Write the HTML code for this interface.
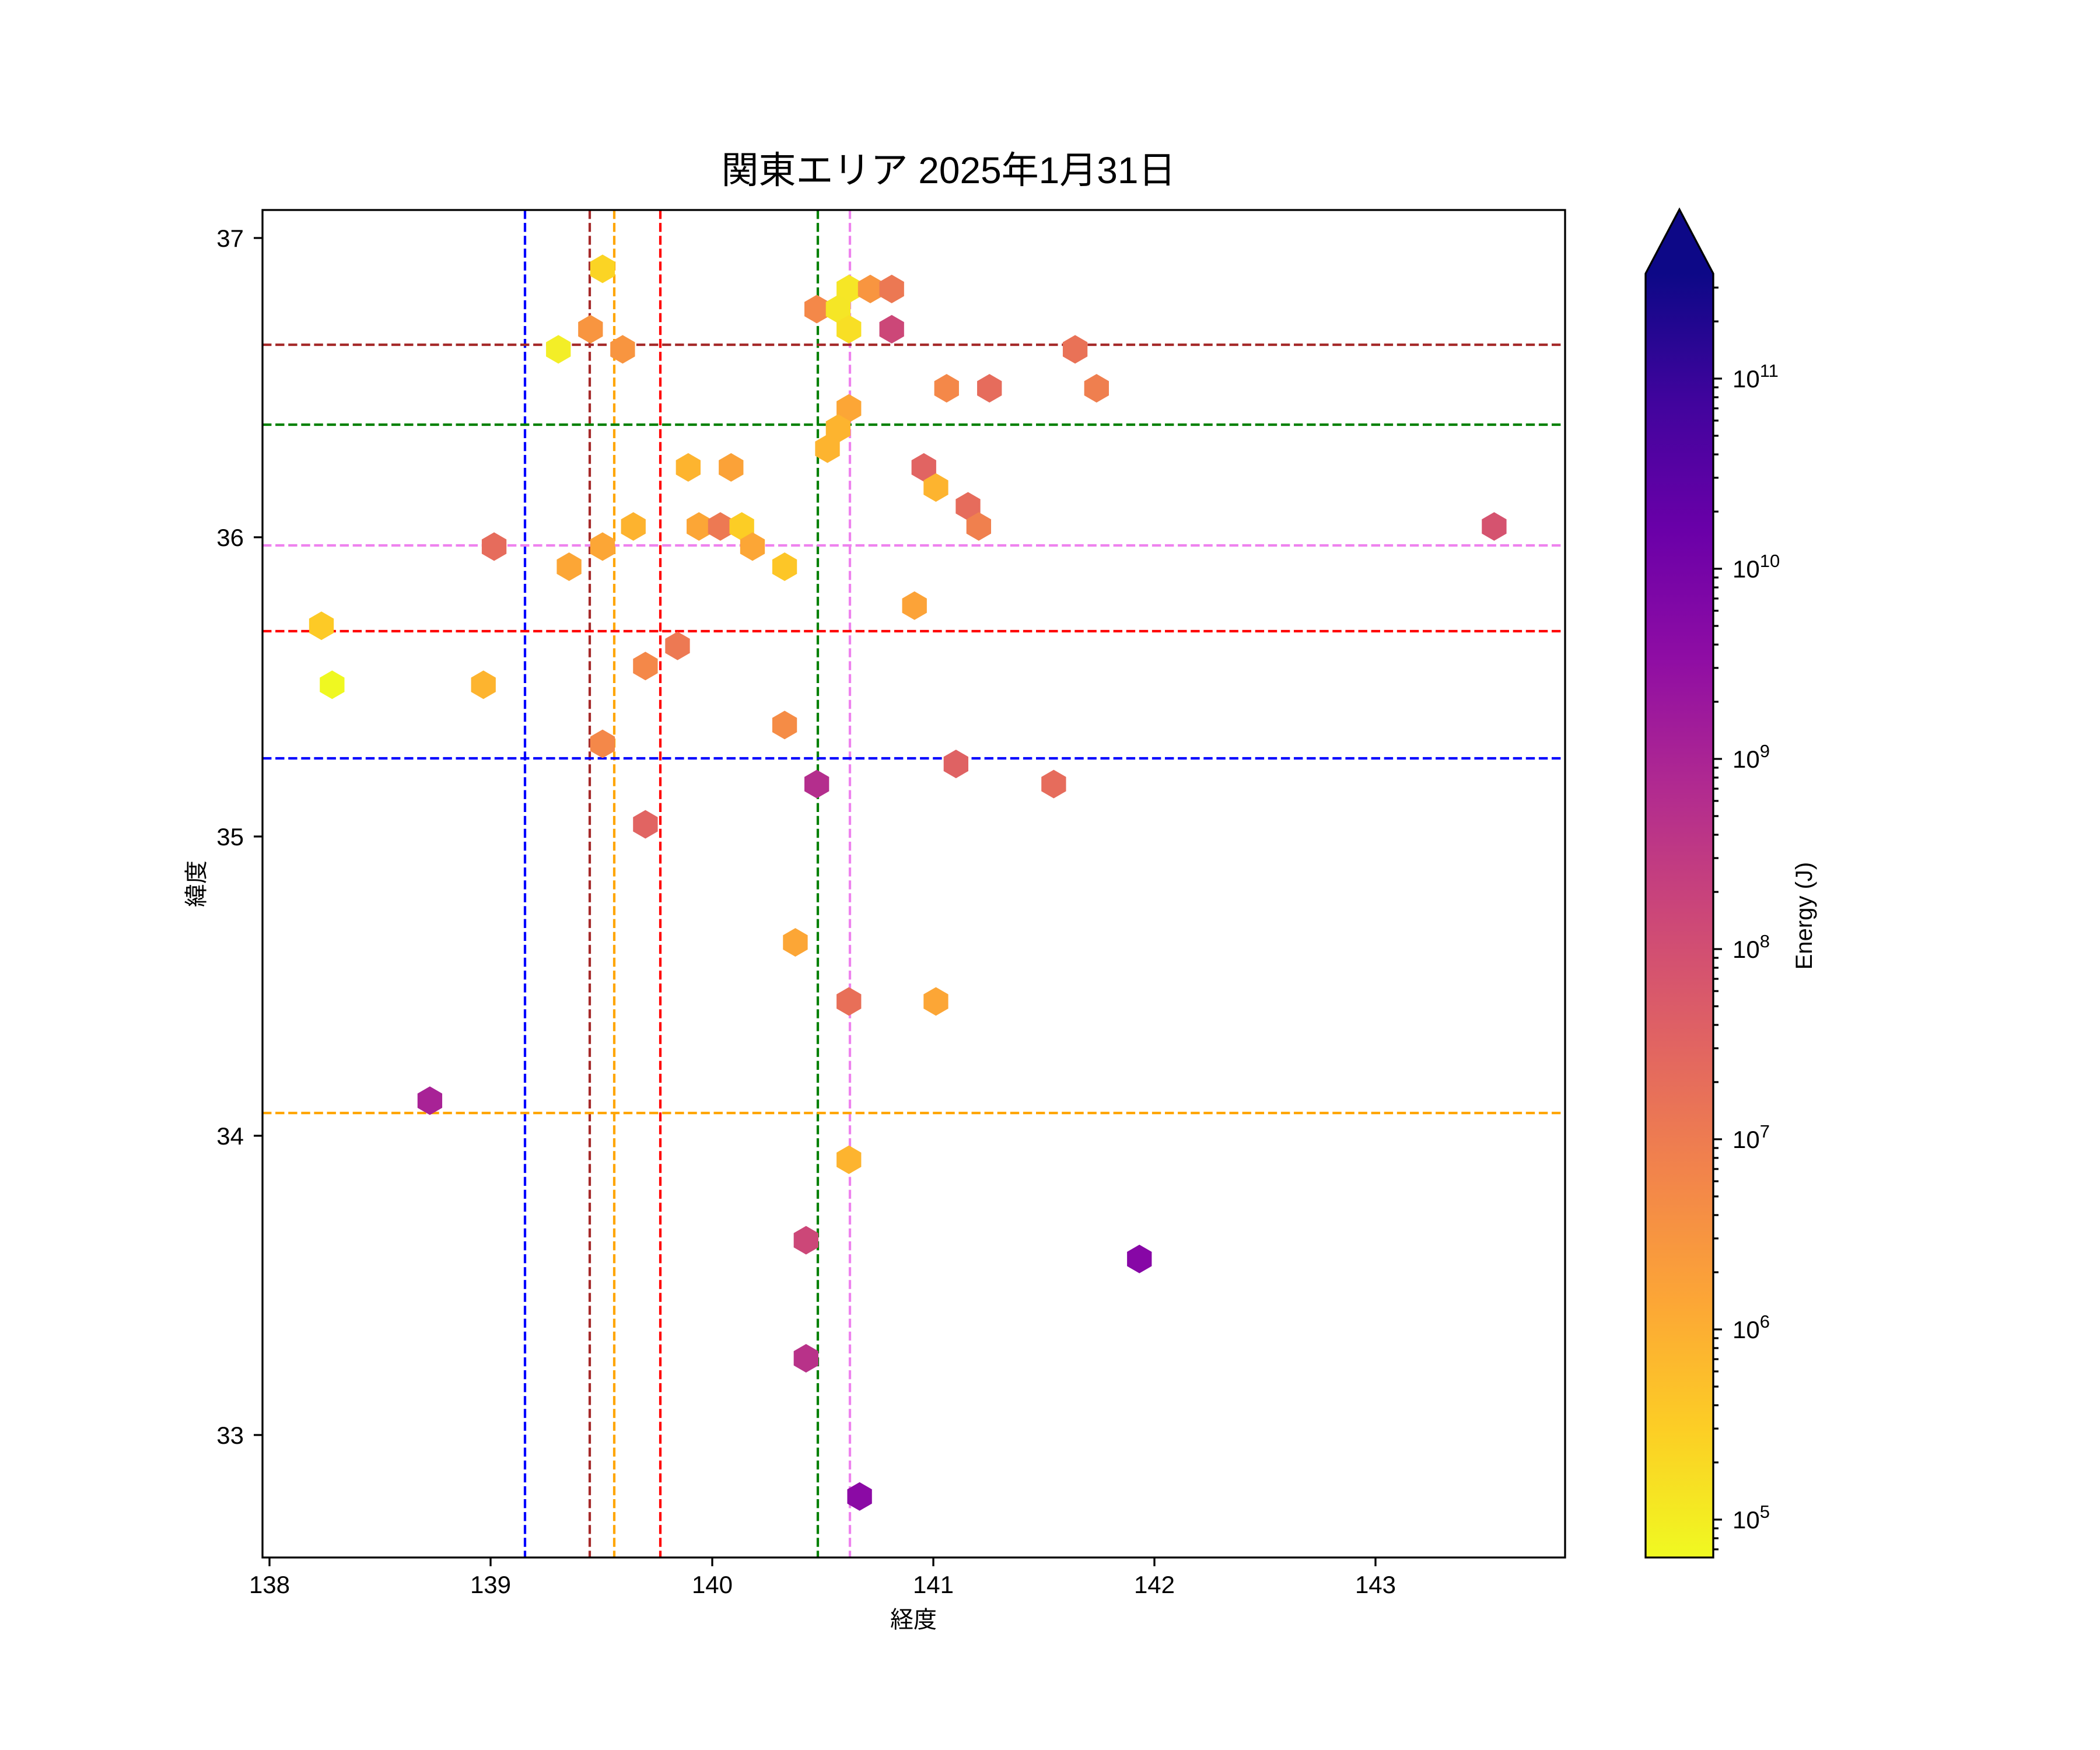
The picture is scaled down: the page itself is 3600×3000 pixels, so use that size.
<!DOCTYPE html>
<html><head><meta charset="utf-8"><style>
html,body{margin:0;padding:0;background:#fff;}
svg{display:block;}
text{font-family:"Liberation Sans","Noto Sans CJK JP",sans-serif;fill:#000;}
</style></head><body>
<svg width="3600" height="3000" viewBox="0 0 3600 3000" xmlns="http://www.w3.org/2000/svg">
<defs>
<polygon id="h" points="0,-10.65 9.22,-5.33 9.22,5.33 0,10.65 -9.22,5.33 -9.22,-5.33"/>
<linearGradient id="pl" x1="0" y1="0" x2="0" y2="1">
<stop offset="0" stop-color="#0d0887"/>
<stop offset="0.1" stop-color="#41049d"/>
<stop offset="0.2" stop-color="#6a00a8"/>
<stop offset="0.3" stop-color="#8f0da4"/>
<stop offset="0.4" stop-color="#b12a90"/>
<stop offset="0.5" stop-color="#cc4778"/>
<stop offset="0.6" stop-color="#e16462"/>
<stop offset="0.7" stop-color="#f2844b"/>
<stop offset="0.8" stop-color="#fca636"/>
<stop offset="0.9" stop-color="#fcce25"/>
<stop offset="1" stop-color="#f0f921"/>
</linearGradient>
</defs>
<rect width="3600" height="3000" fill="#fff"/>

<text x="1626" y="314" font-size="64" text-anchor="middle">関東エリア 2025年1月31日</text>

<g stroke-width="4.2" stroke-dasharray="15.4,6.7" fill="none">
<line x1="900" y1="360" x2="900" y2="2670" stroke="#0000ff"/>
<line x1="1011" y1="360" x2="1011" y2="2670" stroke="#a52a2a"/>
<line x1="1053" y1="360" x2="1053" y2="2670" stroke="#ffa500"/>
<line x1="1132" y1="360" x2="1132" y2="2670" stroke="#ff0000"/>
<line x1="1402" y1="360" x2="1402" y2="2670" stroke="#008000"/>
<line x1="1457" y1="360" x2="1457" y2="2670" stroke="#ee82ee"/>
<line x1="450" y1="591" x2="2683" y2="591" stroke="#a52a2a"/>
<line x1="450" y1="728" x2="2683" y2="728" stroke="#008000"/>
<line x1="450" y1="935" x2="2683" y2="935" stroke="#ee82ee"/>
<line x1="450" y1="1082" x2="2683" y2="1082" stroke="#ff0000"/>
<line x1="450" y1="1300" x2="2683" y2="1300" stroke="#0000ff"/>
<line x1="450" y1="1908" x2="2683" y2="1908" stroke="#ffa500"/>
</g>

<g transform="matrix(2.295,0,0,2.3,2.5,-3.7)">
<use href="#h" x="449" y="202" fill="#fbd424"/>
<use href="#h" x="440" y="247" fill="#f89540"/>
<use href="#h" x="416" y="262" fill="#f3ee27"/>
<use href="#h" x="464" y="262" fill="#f89540"/>
<use href="#h" x="633" y="217" fill="#f6e626"/>
<use href="#h" x="649" y="217" fill="#f89540"/>
<use href="#h" x="665" y="217" fill="#ec7853"/>
<use href="#h" x="609" y="232" fill="#f48849"/>
<use href="#h" x="625" y="232" fill="#f5e626"/>
<use href="#h" x="633" y="247" fill="#f8df25"/>
<use href="#h" x="665" y="247" fill="#cc4778"/>
<use href="#h" x="802" y="262" fill="#e97257"/>
<use href="#h" x="706" y="291" fill="#f48849"/>
<use href="#h" x="738" y="291" fill="#e66c5c"/>
<use href="#h" x="818" y="291" fill="#ef7f4f"/>
<use href="#h" x="633" y="306" fill="#fca636"/>
<use href="#h" x="625" y="321" fill="#fdb42f"/>
<use href="#h" x="617" y="336" fill="#fdb42f"/>
<use href="#h" x="513" y="350" fill="#fdb42f"/>
<use href="#h" x="545" y="350" fill="#fba238"/>
<use href="#h" x="689" y="350" fill="#e16462"/>
<use href="#h" x="698" y="365" fill="#fdb42f"/>
<use href="#h" x="722" y="379" fill="#e66c5c"/>
<use href="#h" x="730" y="394" fill="#f0804e"/>
<use href="#h" x="472" y="394" fill="#fdb32f"/>
<use href="#h" x="521" y="394" fill="#fca636"/>
<use href="#h" x="537" y="394" fill="#ed7953"/>
<use href="#h" x="553" y="394" fill="#fccd25"/>
<use href="#h" x="561" y="409" fill="#fca636"/>
<use href="#h" x="449" y="409" fill="#fca636"/>
<use href="#h" x="368" y="409" fill="#e66c5c"/>
<use href="#h" x="424" y="424" fill="#fca636"/>
<use href="#h" x="585" y="424" fill="#fdc627"/>
<use href="#h" x="1115" y="394" fill="#d5536f"/>
<use href="#h" x="682" y="453" fill="#fca338"/>
<use href="#h" x="239" y="468" fill="#fdca26"/>
<use href="#h" x="247" y="512" fill="#eff821"/>
<use href="#h" x="360" y="512" fill="#fdb42f"/>
<use href="#h" x="505" y="483" fill="#ed7953"/>
<use href="#h" x="481" y="498" fill="#f48849"/>
<use href="#h" x="449" y="556" fill="#f48849"/>
<use href="#h" x="585" y="542" fill="#f58c46"/>
<use href="#h" x="713" y="571" fill="#df6263"/>
<use href="#h" x="609" y="586" fill="#b42e8d"/>
<use href="#h" x="786" y="586" fill="#e66c5c"/>
<use href="#h" x="481" y="616" fill="#e16462"/>
<use href="#h" x="593" y="704" fill="#fca636"/>
<use href="#h" x="633" y="748" fill="#e86f58"/>
<use href="#h" x="698" y="748" fill="#fca636"/>
<use href="#h" x="320" y="822" fill="#a82296"/>
<use href="#h" x="633" y="866" fill="#fdb42f"/>
<use href="#h" x="601" y="926" fill="#cc4778"/>
<use href="#h" x="850" y="940" fill="#8707a6"/>
<use href="#h" x="601" y="1014" fill="#b83289"/>
<use href="#h" x="641" y="1117" fill="#8b0aa5"/>
</g>

<rect x="450" y="360" width="2233" height="2310" fill="none" stroke="#000" stroke-width="3.3"/>

<g stroke="#000" stroke-width="3.3">
<line x1="462" y1="2670" x2="462" y2="2685"/>
<line x1="841" y1="2670" x2="841" y2="2685"/>
<line x1="1221" y1="2670" x2="1221" y2="2685"/>
<line x1="1600" y1="2670" x2="1600" y2="2685"/>
<line x1="1979" y1="2670" x2="1979" y2="2685"/>
<line x1="2358" y1="2670" x2="2358" y2="2685"/>
<line x1="435" y1="408" x2="450" y2="408"/>
<line x1="435" y1="921" x2="450" y2="921"/>
<line x1="435" y1="1434" x2="450" y2="1434"/>
<line x1="435" y1="1947" x2="450" y2="1947"/>
<line x1="435" y1="2460" x2="450" y2="2460"/>
</g>
<g font-size="42" text-anchor="middle">
<text x="462" y="2731">138</text>
<text x="841" y="2731">139</text>
<text x="1221" y="2731">140</text>
<text x="1600" y="2731">141</text>
<text x="1979" y="2731">142</text>
<text x="2358" y="2731">143</text>
</g>
<g font-size="42" text-anchor="end">
<text x="418" y="423">37</text>
<text x="418" y="936">36</text>
<text x="418" y="1449">35</text>
<text x="418" y="1962">34</text>
<text x="418" y="2475">33</text>
</g>
<text x="1566" y="2790" font-size="40" text-anchor="middle">経度</text>
<text transform="translate(350,1515) rotate(-90)" font-size="40" text-anchor="middle">緯度</text>

<rect x="2821" y="469" width="116" height="2201" fill="url(#pl)"/>
<path d="M2821,470 L2879,359 L2937,470 Z" fill="#0d0887"/>
<path d="M2821,2670 L2821,469 L2879,359 L2937,469 L2937,2670 Z" fill="none" stroke="#000" stroke-width="3.3"/>
<g stroke="#000" stroke-width="3.3">
<path d="M2937,2605h15M2937,2279h15M2937,1953h15M2937,1627h15M2937,1301h15M2937,975h15M2937,649h15"/>
<path d="M2937,2656h9M2937,2637h9M2937,2620h9
M2937,2507h9M2937,2449h9M2937,2409h9M2937,2377h9M2937,2351h9M2937,2330h9M2937,2311h9M2937,2294h9
M2937,2181h9M2937,2123h9M2937,2083h9M2937,2051h9M2937,2025h9M2937,2004h9M2937,1985h9M2937,1968h9
M2937,1855h9M2937,1797h9M2937,1757h9M2937,1725h9M2937,1699h9M2937,1678h9M2937,1659h9M2937,1642h9
M2937,1529h9M2937,1471h9M2937,1431h9M2937,1399h9M2937,1373h9M2937,1352h9M2937,1333h9M2937,1316h9
M2937,1203h9M2937,1145h9M2937,1105h9M2937,1073h9M2937,1047h9M2937,1026h9M2937,1007h9M2937,990h9
M2937,877h9M2937,819h9M2937,779h9M2937,747h9M2937,721h9M2937,700h9M2937,681h9M2937,664h9
M2937,551h9M2937,493h9"/>
</g>
<g font-size="42">
<text x="2970" y="2620">10<tspan font-size="31" dy="-18">5</tspan></text>
<text x="2970" y="2294">10<tspan font-size="31" dy="-18">6</tspan></text>
<text x="2970" y="1968">10<tspan font-size="31" dy="-18">7</tspan></text>
<text x="2970" y="1642">10<tspan font-size="31" dy="-18">8</tspan></text>
<text x="2970" y="1316">10<tspan font-size="31" dy="-18">9</tspan></text>
<text x="2970" y="990">10<tspan font-size="31" dy="-18">10</tspan></text>
<text x="2970" y="664">10<tspan font-size="31" dy="-18">11</tspan></text>
</g>
<text transform="translate(3106,1570) rotate(-90)" font-size="40" text-anchor="middle">Energy (J)</text>
</svg>
</body></html>
